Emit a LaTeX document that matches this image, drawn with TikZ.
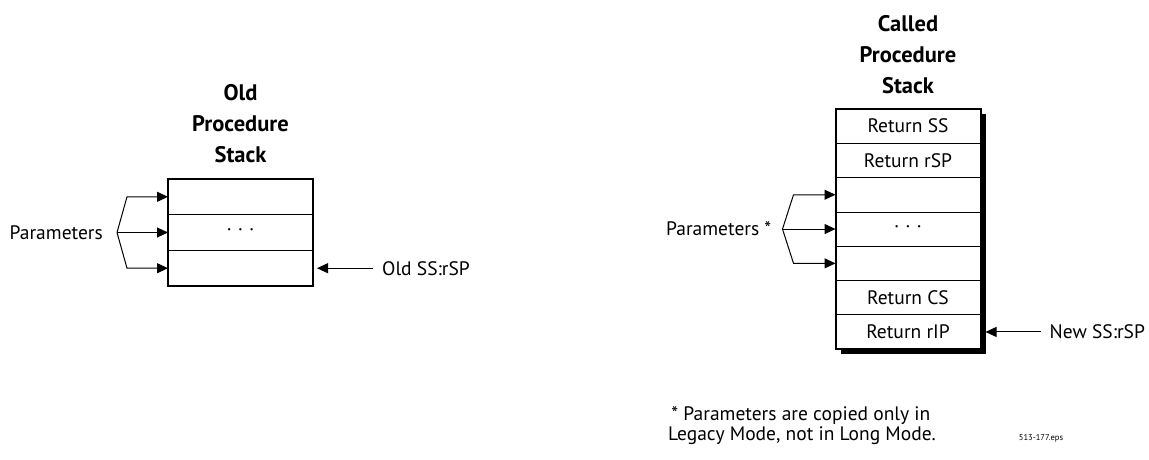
\documentclass[tikz,border=0pt]{standalone}
\usepackage{fontspec}
\setmainfont{PT Sans}
\usetikzlibrary{arrows.meta, positioning, calc, backgrounds}

\tikzset{
  cell/.style={draw, fill=white, line width=0.8pt, minimum width=145pt, minimum height=34.3pt,
    inner sep=0pt, outer sep=0pt, font=\fontsize{19.5}{20}\selectfont},
  title/.style={align=center, font=\bfseries\fontsize{22.5}{31}\selectfont},
  lbl/.style={inner sep=2pt, font=\fontsize{19.5}{20}\selectfont},
  ptr/.style={line width=1pt, -{Triangle[length=11pt,width=10pt]}},
}
\newcommand{\stackdots}{·\hspace{6pt}·\hspace{6pt}·}

\begin{document}
\begin{tikzpicture}[x=1pt, y=-1pt]
\useasboundingbox (0,0) rectangle (1149,460);

% Old procedure stack
\node[cell, minimum height=35.7pt] (olda) at (240.5,196.8) {};
\node[cell, minimum height=35.7pt, below=0pt of olda] (oldb) {\stackdots};
\node[cell, minimum height=35.7pt, below=0pt of oldb] (oldc) {};
\draw[line width=2pt] (olda.north west) rectangle (oldc.south east);
\node[title] (oldtitle) at (240.5,124) {Old\\Procedure\\Stack};

\coordinate (oldfork) at ([xshift=-51pt]oldb.west);
\node[lbl, left=12pt of oldfork] (oldparams) {Parameters};
\foreach \row in {olda,oldb,oldc}
  \draw[ptr] (oldfork) -- ([xshift=10pt]oldfork |- \row.west) -- (\row.west);

\node[lbl, inner xsep=9pt, anchor=west] (oldsp) at ([xshift=60pt]oldc.east) {Old SS:rSP};
\draw[ptr, shorten >=4pt] (oldsp) -- (oldc);

% Called procedure stack
\node[cell] (newss) at (908,126.15) {Return SS};
\node[cell, below=0pt of newss] (newsp) {Return rSP};
\node[cell, below=0pt of newsp] (newpa) {};
\node[cell, below=0pt of newpa] (newpb) {\stackdots};
\node[cell, below=0pt of newpb] (newpc) {};
\node[cell, below=0pt of newpc] (newcs) {Return CS};
\node[cell, below=0pt of newcs] (newip) {Return rIP};
\draw[line width=2pt] (newss.north west) rectangle (newip.south east);
\begin{scope}[on background layer]
  \fill ([shift={(5,5)}]newss.north west) rectangle ([shift={(5,5)}]newip.south east);
\end{scope}
\node[title] (newtitle) at (908,55) {Called\\Procedure\\Stack};

\coordinate (newfork) at ([xshift=-53pt]newpb.west);
\node[lbl, left=9pt of newfork] (newparams) {Parameters *};
\foreach \row in {newpa,newpb,newpc}
  \draw[ptr] (newfork) -- ([xshift=11pt]newfork |- \row.west) -- (\row.west);

\node[lbl, inner xsep=9pt, anchor=west] (newsspt) at ([xshift=60pt]newip.east) {New SS:rSP};
\draw[ptr, shorten >=5pt] (newsspt) -- (newip);

% footnote
\node[lbl, anchor=north west, align=left] (note) at (666,404)
  {\,* Parameters are copied only in\\Legacy Mode, not in Long Mode.};
\node[font=\fontsize{8.5}{10}\selectfont] (epsname) at (1041,438) {513-177.eps};
\end{tikzpicture}
\end{document}
